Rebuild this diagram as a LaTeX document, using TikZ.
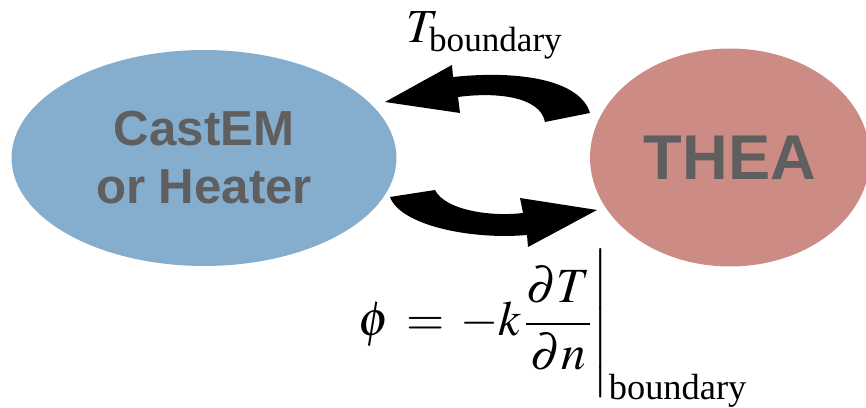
\documentclass[tikz,border=0pt]{standalone}
\usepackage{amsmath}
\usepackage{mathptmx}
\usepackage[no-math]{fontspec}
\setmainfont{Liberation Serif}
\setsansfont{Liberation Sans}
\usetikzlibrary{shapes.geometric}
\definecolor{castblue}{HTML}{85ADCE}
\definecolor{thearose}{HTML}{CC8B85}
\definecolor{labelgray}{HTML}{5F5F5F}

\begin{document}
\begin{tikzpicture}[x=0.02cm, y=-0.02cm]
        \useasboundingbox (0,0) rectangle (866,408);
        \node[ellipse, fill=castblue, inner sep=0, minimum width=7.7cm, minimum height=4.32cm, align=center, text=labelgray, font=\sffamily\bfseries\fontsize{28}{33}\selectfont] (castem) at (204,158) {CastEM\\or Heater};
        \node[ellipse, fill=thearose, inner sep=0, minimum width=5.6cm, minimum height=4.36cm, text=labelgray, font=\sffamily\bfseries\fontsize{36}{40}\selectfont] (thea) at (730,157.5) {THEA};
        % temperature back to CastEM
        \fill[black] (590,113) .. controls (580,80) and (520,70) .. (453,77) -- (452,65) -- (385,102) -- (460,113) -- (458,97) .. controls (495,92) and (540,96) .. (545,122) -- cycle;
        % flux over to THEA
        \fill[black] (390,197) -- (435,190) .. controls (445,210) and (490,217) .. (523,213) -- (520,198) -- (597,210) -- (528,247) -- (527,235) .. controls (470,240) and (400,225) .. (390,197) -- cycle;
        \node[anchor=base west, inner sep=0, font=\fontsize{27}{30}\selectfont] (tlabel) at (406,43) {$T_{\text{boundary}}$};
        \node[anchor=base west, inner sep=0, font=\fontsize{28}{34}\selectfont] (flux) at (356,336) {$\displaystyle \left.\phi \mkern2mu=\mkern2mu -k\mkern1mu\frac{\partial T}{\partial n}\rule[-35pt]{0pt}{84pt}\right|_{\text{boundary}}$};
      \end{tikzpicture}
\end{document}
